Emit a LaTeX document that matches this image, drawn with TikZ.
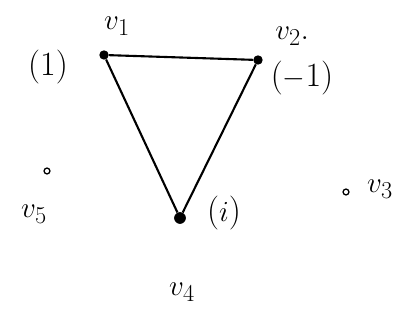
\documentclass[tikz,border=0pt]{standalone}
\begin{document}
\begin{tikzpicture}[x=0.03cm,y=-0.03cm,
  lbl/.style={font=\fontsize{29}{32}\selectfont, inner sep=0pt},
  bigdot/.style={circle, fill=black, inner sep=0pt, minimum size=8pt},
  opendot/.style={circle, draw=black, line width=1.1pt, inner sep=0pt, minimum size=5pt},
  edge/.style={line width=1.8pt}]
\useasboundingbox (0,0) rectangle (416,320);
\node[bigdot] (v1) at (104,55) {};
\node[bigdot] (v2) at (258,60) {};
\node[bigdot, minimum size=10pt] (v4) at (180,218) {};
\node[opendot] (v5) at (47,171) {};
\node[opendot] (v3) at (346,192) {};
\draw[edge] (v1) -- (v2);
\draw[edge] (v1) -- (v4);
\draw[edge] (v2) -- (v4);
\node[lbl] (l1) at (117,26) {$v_1$};
\node[lbl] (l2) at (292,36) {$v_2.$};
\node[lbl] (l3) at (380,189) {$v_3$};
\node[lbl] (l4) at (182,292) {$v_4$};
\node[lbl] (l5) at (34,214) {$v_5$};
\node[lbl] (w1) at (48,67) {(1)};
\node[lbl] (w2) at (302,78) {($-$1)};
\node[lbl] (w4) at (224,213) {($i$)};
\end{tikzpicture}
\end{document}
